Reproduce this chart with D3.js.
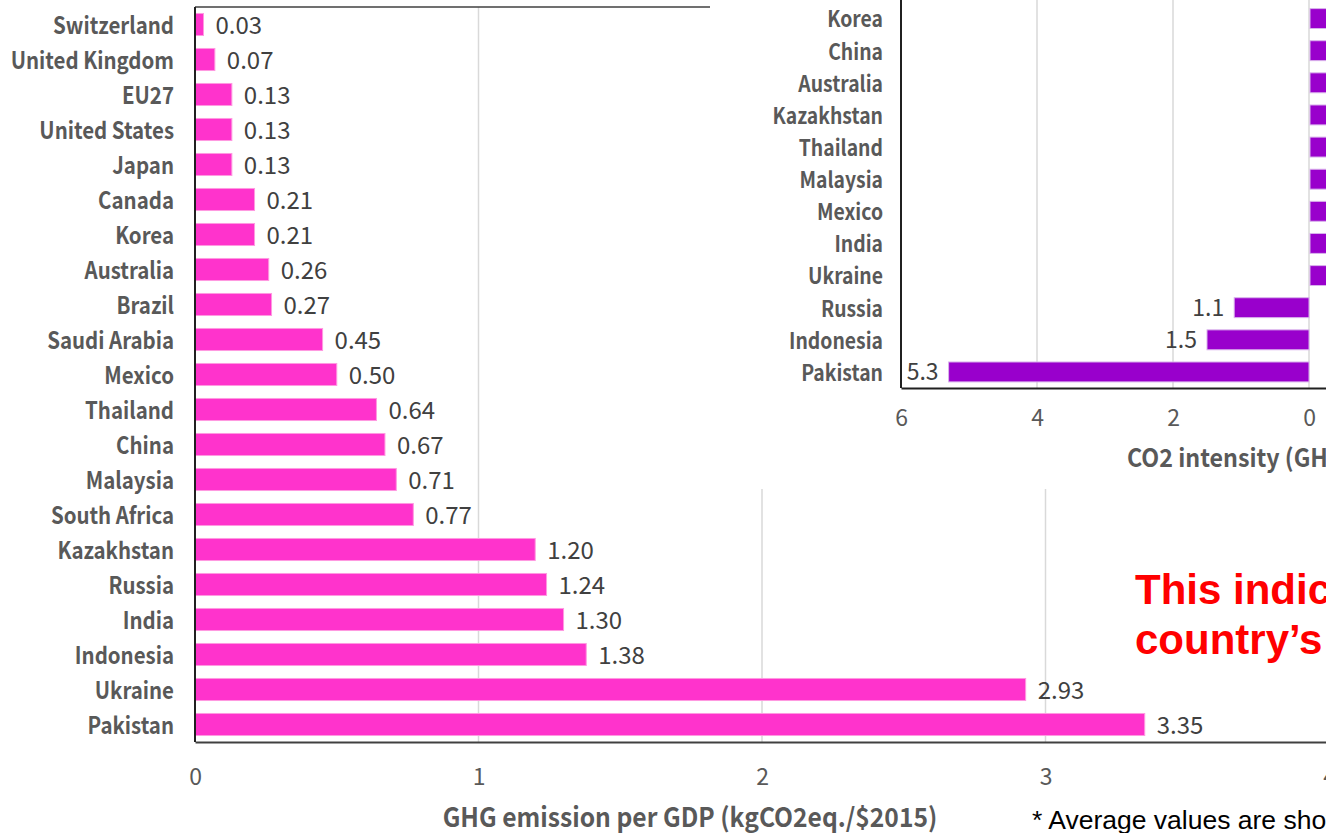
<!DOCTYPE html>
<html>
<head>
<meta charset="utf-8">
<script src="https://cdn.jsdelivr.net/npm/d3@7"></script>
<style>
  html, body { margin: 0; padding: 0; background: #ffffff; }
  svg { display: block; }
</style>
</head>
<body>
<svg id="chart" width="1326" height="833"></svg>
<script>
// GHG emission per GDP (kgCO2eq./$2015), smallest at top
const ghgCountries = [
  "Switzerland", "United Kingdom", "EU27", "United States", "Japan", "Canada",
  "Korea", "Australia", "Brazil", "Saudi Arabia", "Mexico", "Thailand", "China",
  "Malaysia", "South Africa", "Kazakhstan", "Russia", "India", "Indonesia",
  "Ukraine", "Pakistan"
];
const ghgValues = [
  0.03, 0.07, 0.13, 0.13, 0.13, 0.21, 0.21, 0.26, 0.27, 0.45, 0.50, 0.64, 0.67,
  0.71, 0.77, 1.20, 1.24, 1.30, 1.38, 2.93, 3.35
];
const ghgTicks = [0, 1, 2, 3, 4];

// CO2 intensity panel: bars drawn leftward from zero, plus the opposite-side series
const intensityCountries = [
  "Korea", "China", "Australia", "Kazakhstan", "Thailand", "Malaysia", "Mexico",
  "India", "Ukraine", "Russia", "Indonesia", "Pakistan"
];
const intensityLeft = [0, 0, 0, 0, 0, 0, 0, 0, 0, 1.1, 1.5, 5.3];
const intensityRight = [0.3, 0.4, 0.45, 0.5, 0.55, 0.6, 0.65, 0.8, 0.95, 0, 0, 0];
const intensityTicks = [6, 4, 2, 0];

const svg = d3.select("#chart");
const LABEL_FONT = "'Noto Sans CJK JP', 'Noto Sans', sans-serif";
const NUM_FONT = "'Noto Sans CJK JP', 'Noto Sans', sans-serif";

svg.append("rect").attr("width", 1326).attr("height", 833).attr("fill", "#ffffff");

// Right-aligned bold label, drawn slightly condensed
function condensedLabel(sel, xPos, yPos, size, squeeze) {
  sel.attr("transform", d => `translate(${xPos(d)},${yPos(d)}) scale(${squeeze},1)`)
    .attr("dy", "0.36em")
    .attr("text-anchor", "end")
    .attr("font-family", LABEL_FONT).attr("font-weight", 700).attr("font-size", size)
    .attr("fill", "#595959");
}

// ---------- Main chart: GHG emission per GDP ----------
const plot = { top: 7, bottom: 742, left: 195, right: 1329 };
const x = d3.scaleLinear().domain([0, 4]).range([plot.left, plot.right]);
const y = d3.scaleBand().domain(ghgCountries)
  .range([plot.top, plot.bottom]).paddingInner(0.37).paddingOuter(0.185);

const main = svg.append("g");

// vertical gridlines
main.append("g").selectAll("line")
  .data(ghgTicks.filter(t => t > 0))
  .join("line")
  .attr("x1", d => x(d)).attr("x2", d => x(d))
  .attr("y1", plot.top).attr("y2", plot.bottom)
  .attr("stroke", "#d9d9d9").attr("stroke-width", 1.5);

// plot-area top border
main.append("line")
  .attr("x1", plot.left).attr("x2", plot.right)
  .attr("y1", plot.top).attr("y2", plot.top)
  .attr("stroke", "#404040").attr("stroke-width", 1.5);

const ghgRows = ghgCountries.map((c, i) => ({ c, v: ghgValues[i] }));

// bars
main.append("g").selectAll("rect")
  .data(ghgRows)
  .join("rect")
  .attr("x", x(0))
  .attr("y", d => y(d.c))
  .attr("width", d => x(d.v) - x(0))
  .attr("height", y.bandwidth())
  .attr("fill", "#ff33cc")
  .attr("stroke", "#ff99e0").attr("stroke-width", 1);

// value labels
main.append("g").selectAll("text")
  .data(ghgRows)
  .join("text")
  .attr("x", d => x(d.v) + 12)
  .attr("y", d => y(d.c) + y.bandwidth() / 2 + 1)
  .attr("dy", "0.36em")
  .attr("font-family", NUM_FONT).attr("font-size", 24)
  .attr("fill", "#404040")
  .text(d => d.v.toFixed(2));

// category labels
main.append("g").selectAll("text")
  .data(ghgCountries)
  .join("text")
  .call(condensedLabel, () => plot.left - 21, d => y(d) + y.bandwidth() / 2 + 1, 23.5, 0.87)
  .text(d => d);

// x axis
const xAxis = main.append("g")
  .attr("transform", `translate(0,${plot.bottom})`)
  .call(d3.axisBottom(x).tickValues(ghgTicks).tickSize(0).tickSizeOuter(0).tickPadding(27).tickFormat(d3.format("d")));
xAxis.select(".domain").attr("stroke", "#404040").attr("stroke-width", 2);
xAxis.selectAll("text")
  .attr("font-family", NUM_FONT).attr("font-size", 23).attr("fill", "#595959");

// y axis line
main.append("line")
  .attr("x1", plot.left).attr("x2", plot.left)
  .attr("y1", plot.top).attr("y2", plot.bottom)
  .attr("stroke", "#202020").attr("stroke-width", 2);

main.append("text")
  .attr("transform", "translate(690,827) scale(0.93,1)")
  .attr("text-anchor", "middle")
  .attr("font-family", LABEL_FONT).attr("font-weight", 700).attr("font-size", 26.5)
  .attr("fill", "#595959")
  .text("GHG emission per GDP (kgCO2eq./$2015)");

// ---------- Inset chart: CO2 intensity ----------
const panel = { x: 710, y: 0, w: 616, h: 489 };
svg.append("defs").append("clipPath").attr("id", "panelClip")
  .append("rect").attr("x", panel.x).attr("y", panel.y).attr("width", panel.w).attr("height", panel.h);

const inset = svg.append("g").attr("clip-path", "url(#panelClip)");
inset.append("rect")
  .attr("x", panel.x).attr("y", panel.y).attr("width", panel.w).attr("height", panel.h)
  .attr("fill", "#ffffff");

const ip = { top: 2.5, bottom: 388, left: 901 };
const xr = d3.scaleLinear().domain([6, -6]).range([ip.left, ip.left + 816]);
const yr = d3.scaleBand().domain(intensityCountries)
  .range([ip.top, ip.bottom]).paddingInner(0.38).paddingOuter(0.19);

// gridlines
inset.append("g").selectAll("line")
  .data(intensityTicks.filter(t => t < 6))
  .join("line")
  .attr("x1", d => xr(d)).attr("x2", d => xr(d))
  .attr("y1", 0).attr("y2", ip.bottom)
  .attr("stroke", "#d9d9d9").attr("stroke-width", 1.5);

const rows = intensityCountries.map((c, i) => ({ c, l: intensityLeft[i], r: intensityRight[i] }));

// bars extending left from zero
inset.append("g").selectAll("rect")
  .data(rows.filter(d => d.l > 0))
  .join("rect")
  .attr("x", d => xr(d.l))
  .attr("y", d => yr(d.c))
  .attr("width", d => xr(0) - xr(d.l))
  .attr("height", yr.bandwidth())
  .attr("fill", "#9900cc")
  .attr("stroke", "#d9b3ec").attr("stroke-width", 1);

// bars on the opposite side of zero
inset.append("g").selectAll("rect")
  .data(rows.filter(d => d.r > 0))
  .join("rect")
  .attr("x", xr(0) + 1)
  .attr("y", d => yr(d.c))
  .attr("width", d => xr(-d.r) - xr(0))
  .attr("height", yr.bandwidth())
  .attr("fill", "#9900cc")
  .attr("stroke", "#d9b3ec").attr("stroke-width", 1);

// value labels
inset.append("g").selectAll("text")
  .data(rows.filter(d => d.l > 0))
  .join("text")
  .attr("x", d => xr(d.l) - 10)
  .attr("y", d => yr(d.c) + yr.bandwidth() / 2)
  .attr("dy", "0.36em")
  .attr("text-anchor", "end")
  .attr("font-family", NUM_FONT).attr("font-size", 23)
  .attr("fill", "#404040")
  .text(d => d.l.toFixed(1));

// category labels
inset.append("g").selectAll("text")
  .data(intensityCountries)
  .join("text")
  .call(condensedLabel, () => ip.left - 18, d => yr(d) + yr.bandwidth() / 2 + 1, 22, 0.88)
  .text(d => d);

// axes
const xrAxis = inset.append("g")
  .attr("transform", `translate(0,${ip.bottom})`)
  .call(d3.axisBottom(xr).tickValues(intensityTicks).tickSize(0).tickSizeOuter(0).tickPadding(22).tickFormat(d3.format("d")));
xrAxis.select(".domain").attr("stroke", "#202020").attr("stroke-width", 2);
xrAxis.selectAll("text")
  .attr("font-family", NUM_FONT).attr("font-size", 23).attr("fill", "#595959");

inset.append("line")
  .attr("x1", ip.left).attr("x2", ip.left)
  .attr("y1", 0).attr("y2", ip.bottom)
  .attr("stroke", "#202020").attr("stroke-width", 2);

inset.append("text")
  .attr("transform", "translate(1127,467) scale(0.93,1)")
  .attr("font-family", LABEL_FONT).attr("font-weight", 700).attr("font-size", 25)
  .attr("fill", "#595959")
  .text("CO2 intensity (GHG emission per GDP)");

// ---------- Annotations ----------
const note = svg.append("g").attr("font-family", "'Liberation Sans', Arial, sans-serif");
note.append("text")
  .attr("x", 1135).attr("y", 604)
  .attr("font-size", 42).attr("font-weight", 700).attr("fill", "#ff0000")
  .text("This indicator reflects each");
note.append("text")
  .attr("x", 1135).attr("y", 654)
  .attr("font-size", 42).attr("font-weight", 700).attr("fill", "#ff0000")
  .text("country’s economic structure");
note.append("text")
  .attr("x", 1032).attr("y", 829)
  .attr("font-size", 26.5).attr("fill", "#000000")
  .text("* Average values are shown");
</script>
</body>
</html>
